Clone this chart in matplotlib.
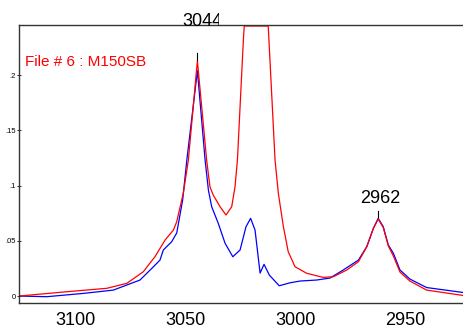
import matplotlib.pyplot as plt
from matplotlib.transforms import Bbox, TransformedBbox

plt.rcParams['font.family'] = ['Liberation Sans', 'DejaVu Sans']

# wavenumber (cm-1) and absorbance
blue_wn = [3125.8, 3113.2, 3096.5, 3082.9, 3070.8, 3064.7, 3061.7, 3060.2, 3056.4,
           3054.1, 3051.4, 3049.5, 3044.7, 3041.2, 3039.7, 3038.2, 3035.2, 3032.1,
           3028.6, 3025.3, 3022.6, 3020.5, 3018.5, 3016.2, 3014.4, 3012.0, 3007.5,
           3002.6, 2998.0, 2990.5, 2984.4, 2978.4, 2971.5, 2967.7, 2964.7, 2962.5,
           2960.2, 2957.9, 2955.6, 2952.6, 2948.1, 2940.5, 2923.8]
blue_abs = [0.0, -0.0006, 0.0024, 0.0054, 0.0145, 0.0265, 0.0326, 0.0417, 0.0492,
            0.0571, 0.087, 0.1232, 0.204, 0.1232, 0.096, 0.0809, 0.0658, 0.0477,
            0.0356, 0.0417, 0.0628, 0.0704, 0.0598, 0.0208, 0.0287, 0.019, 0.0093,
            0.012, 0.0136, 0.0145, 0.0163, 0.0236, 0.0326, 0.0447, 0.0613, 0.0704,
            0.0628, 0.0462, 0.0387, 0.0236, 0.0154, 0.0077, 0.0032]

red_wn = [3125.8, 3104.1, 3085.9, 3076.8, 3069.3, 3064.0, 3059.4, 3055.6, 3054.1,
          3051.1, 3048.8, 3044.7, 3040.5, 3039.0, 3037.5, 3034.4, 3031.7, 3029.1,
          3027.6, 3026.5, 3023.8, 3023.4, 3012.5, 3009.4, 3007.9, 3005.6, 3003.4,
          3000.3, 2995.0, 2987.5, 2982.9, 2976.8, 2971.5, 2967.7, 2964.7, 2962.5,
          2960.2, 2957.9, 2955.6, 2952.6, 2948.1, 2940.5, 2923.8]
red_abs = [0.0, 0.0039, 0.007, 0.0115, 0.022, 0.0356, 0.0507, 0.0598, 0.0673,
           0.0933, 0.1232, 0.2131, 0.1232, 0.099, 0.0915, 0.0809, 0.0734, 0.0809,
           0.099, 0.1232, 0.2319, 0.2446, 0.2446, 0.1232, 0.093, 0.0628, 0.0401,
           0.0265, 0.0206, 0.0169, 0.0175, 0.0236, 0.0311, 0.0447, 0.0613, 0.0697,
           0.062, 0.0453, 0.0362, 0.0217, 0.0136, 0.0054, 0.0005]

peak_wn = [3044.7, 2962.5]
peak_labels = ['3044', '2962']
peak_tops = [0.2131, 0.0704]

x_ticks = [3100, 3050, 3000, 2950]
y_ticks = [0, 0.05, 0.1, 0.15, 0.2]
y_ticklabels = ['0', '.05', '.1', '.15', '.2']

fig = plt.figure(figsize=(4.64, 3.29), dpi=100)
ax = fig.add_axes([19 / 464, 26 / 329, 1 - 19 / 464, 304 / 329 - 26 / 329])

ax.plot(blue_wn, blue_abs, color='blue', lw=0.9)
ax.plot(red_wn, red_abs, color='red', lw=0.9)

ax.set_xlim(3125.8, 2923.5)
ax.set_ylim(-0.0063, 0.2455)

# peak markers
for wn, top in zip(peak_wn, peak_tops):
    ax.plot([wn, wn], [top + 0.001, top + 0.007], color='black', lw=0.8)

# first label is cut off on the right in the original
t1 = ax.text(3042.4, 0.2485, peak_labels[0], ha='center', va='center', fontsize=13)
t1.set_clip_on(True)
t1.set_clip_box(TransformedBbox(Bbox([[0, 0], [219 / 464, 1]]), fig.transFigure))
ax.text(2961.7, 0.0888, peak_labels[1], ha='center', va='center', fontsize=13)

fig.text(25 / 464, 1 - 62 / 329, 'File # 6 : M150SB', color='red', fontsize=11,
         va='center', ha='left')

ax.set_xticks(x_ticks)
ax.set_xticklabels([str(v) for v in x_ticks])
ax.set_yticks(y_ticks)
ax.set_yticklabels(y_ticklabels)
ax.tick_params(axis='x', length=0, pad=6.5, labelsize=13)
ax.tick_params(axis='y', length=3, direction='inout', width=0.6, pad=1, labelsize=5.5)

ax.spines['right'].set_visible(False)
for side in ['top', 'left', 'bottom']:
    ax.spines[side].set_color('#333333')
    ax.spines[side].set_linewidth(1.0)

fig.savefig('out.png', dpi=100)
